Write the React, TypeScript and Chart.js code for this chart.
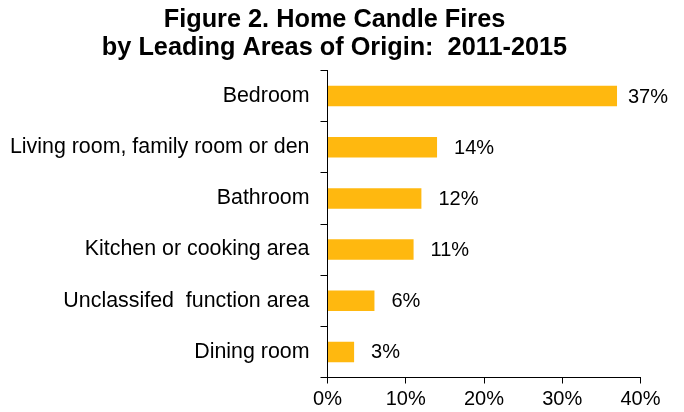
import React, { useEffect, useRef } from "react";
import { Chart, registerables } from "chart.js";

Chart.register(...registerables);

const categories = [
  "Bedroom",
  "Living room, family room or den",
  "Bathroom",
  "Kitchen or cooking area",
  "Unclassifed  function area",
  "Dining room",
];
const values = [37, 14, 12, 11, 6, 3.4];
const valueLabels = ["37%", "14%", "12%", "11%", "6%", "3%"];
const titleLines = ["Figure 2. Home Candle Fires", "by Leading Areas of Origin:  2011-2015"];
const xTicks = [0, 10, 20, 30, 40];

const FONT = "'Liberation Sans', Arial, sans-serif";

export default function App() {
  const ref = useRef<HTMLCanvasElement | null>(null);
  useEffect(() => {
    if (!ref.current) return;
    const labelPlugin = {
      id: "labels",
      afterDraw(chart: any) {
        const ctx = chart.ctx;
        ctx.save();
        ctx.fillStyle = "#000";
        ctx.font = `bold 25.3px ${FONT}`;
        ctx.textAlign = "center";
        ctx.textBaseline = "middle";
        ctx.fillText(titleLines[0], 334.5, 20);
        ctx.fillText(titleLines[1], 334.5, 48);
        const meta = chart.getDatasetMeta(0);
        ctx.font = `20px ${FONT}`;
        ctx.textAlign = "left";
        meta.data.forEach((bar: any, i: number) => {
          const w = ctx.measureText(valueLabels[i]).width;
          const x = Math.min(bar.x + 17, 668 - w);
          ctx.fillText(valueLabels[i], x, bar.y + 1);
        });
        ctx.restore();
      },
    };
    const chart = new Chart(ref.current, {
      type: "bar",
      data: {
        labels: categories,
        datasets: [
          {
            data: values,
            backgroundColor: "#FFB80F",
            barPercentage: 0.8,
            categoryPercentage: 0.5,
          },
        ],
      },
      options: {
        indexAxis: "y",
        animation: false,
        responsive: false,
        layout: { padding: { top: 70.5, right: 43.5, left: 0, bottom: 0 } },
        plugins: { legend: { display: false }, title: { display: false }, tooltip: { enabled: false } },
        scales: {
          x: {
            min: 0,
            max: 40,
            afterBuildTicks: (s: any) => {
              s.ticks = xTicks.map((v) => ({ value: v }));
            },
            afterFit: (s: any) => {
              s.height = 34.5;
            },
            ticks: {
              color: "#000",
              font: { family: FONT, size: 20 },
              padding: 4,
              callback: (v: any) => v + "%",
            },
            grid: { drawOnChartArea: false, drawTicks: true, tickLength: 6, color: "#000", lineWidth: 1 },
            border: { display: true, color: "#000", width: 1 },
          },
          y: {
            afterFit: (s: any) => {
              s.width = 327.5;
            },
            ticks: { color: "#000", font: { family: FONT, size: 21.4 }, padding: 11 },
            grid: { drawOnChartArea: false, drawTicks: true, tickLength: 7, color: "#000", lineWidth: 1, offset: true },
            border: { display: true, color: "#000", width: 1 },
          },
        },
      },
      plugins: [labelPlugin],
    });
    return () => chart.destroy();
  }, []);
  return (
    <div style={{ position: "fixed", left: 0, top: 0, width: 684, height: 412, background: "#fff" }}>
      <canvas ref={ref} width={684} height={412} />
    </div>
  );
}
